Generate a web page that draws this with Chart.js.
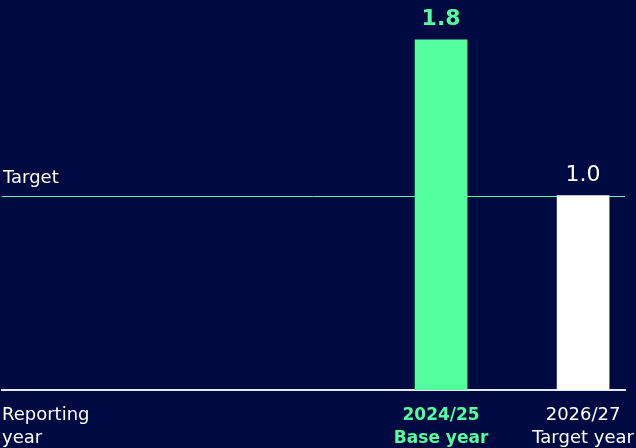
<!DOCTYPE html>
<html>
<head>
<meta charset="utf-8">
<script src="https://cdn.jsdelivr.net/npm/chart.js@4.4.1/dist/chart.umd.min.js"></script>
<style>
  html, body { margin: 0; padding: 0; background: #000a42; }
  #chart { display: block; background: #000a42; }
</style>
</head>
<body>
<canvas id="chart" width="636" height="448"></canvas>
<script>
const categories = [["2024/25", "Base year"], ["2026/27", "Target year"]];
const axisLabel = ["Reporting", "year"];
const values = [1.8, 1.0];
const barColors = ["#52ff9c", "#ffffff"];
const labelColors = ["#52ff9c", "#ffffff"];
const targetValue = 1.0;
const targetLabel = "Target";

// horizontal slot of each bar on the linear x axis
const barSlots = [0, 1];

const green = "#52ff9c";
const fontFamily = "'DejaVu Sans', sans-serif";

const targetLine = {
    id: "targetLine",
    beforeDatasetsDraw(chart) {
        const { ctx, chartArea, scales } = chart;
        const y = Math.round(scales.y.getPixelForValue(targetValue)) + 0.5;
        ctx.save();
        ctx.strokeStyle = green;
        ctx.lineWidth = 1;
        ctx.beginPath();
        ctx.moveTo(chartArea.left, y);
        ctx.lineTo(chartArea.right, y);
        ctx.stroke();
        ctx.fillStyle = "#ffffff";
        ctx.font = "18px " + fontFamily;
        ctx.textAlign = "left";
        ctx.textBaseline = "alphabetic";
        ctx.fillText(targetLabel, chartArea.left + 1, y - 14);
        ctx.restore();
    }
};

const valueLabels = {
    id: "valueLabels",
    afterDatasetsDraw(chart) {
        const { ctx } = chart;
        const meta = chart.getDatasetMeta(0);
        ctx.save();
        ctx.textAlign = "center";
        ctx.textBaseline = "alphabetic";
        meta.data.forEach((bar, i) => {
            ctx.fillStyle = labelColors[i];
            ctx.font = (i === 0 ? "bold " : "") + "22px " + fontFamily;
            ctx.fillText(values[i].toFixed(1), bar.x, bar.y - 15);
        });
        ctx.restore();
    }
};

new Chart(document.getElementById("chart"), {
    type: "bar",
    data: {
        datasets: [{
            data: values.map((v, i) => ({ x: barSlots[i], y: v })),
            backgroundColor: barColors,
            borderWidth: 0,
            barThickness: 52
        }]
    },
    options: {
        responsive: false,
        animation: false,
        layout: { padding: { left: 2, right: 11, top: 1, bottom: 0 } },
        plugins: {
            legend: { display: false },
            tooltip: { enabled: false }
        },
        scales: {
            x: {
                type: "linear",
                offset: false,
                min: -3.092,
                max: 1.295,
                afterBuildTicks: scale => {
                    scale.ticks = barSlots.map(v => ({ value: v }));
                },
                // let the last label run past the plot edge, as in the original
                afterFit: scale => {
                    scale.paddingLeft = 0;
                    scale.paddingRight = 0;
                },
                grid: { display: false, drawTicks: false },
                border: { display: true, color: "#e8e8f0", width: 2 },
                ticks: {
                    padding: 14,
                    maxRotation: 0,
                    autoSkip: false,
                    callback: (value, index) => categories[index],
                    color: ctx => labelColors[ctx.index],
                    font: ctx => ({
                        family: fontFamily,
                        size: ctx.index === 0 ? 17 : 18,
                        weight: ctx.index === 0 ? "bold" : "normal",
                        lineHeight: "23px"
                    })
                },
                title: {
                    display: true,
                    text: axisLabel,
                    align: "start",
                    color: "#ffffff",
                    font: { family: fontFamily, size: 18, lineHeight: "23px" },
                    padding: { top: -60, bottom: -2 }
                }
            },
            y: {
                display: false,
                min: 0,
                max: 2
            }
        }
    },
    plugins: [targetLine, valueLabels]
});
</script>
</body>
</html>
